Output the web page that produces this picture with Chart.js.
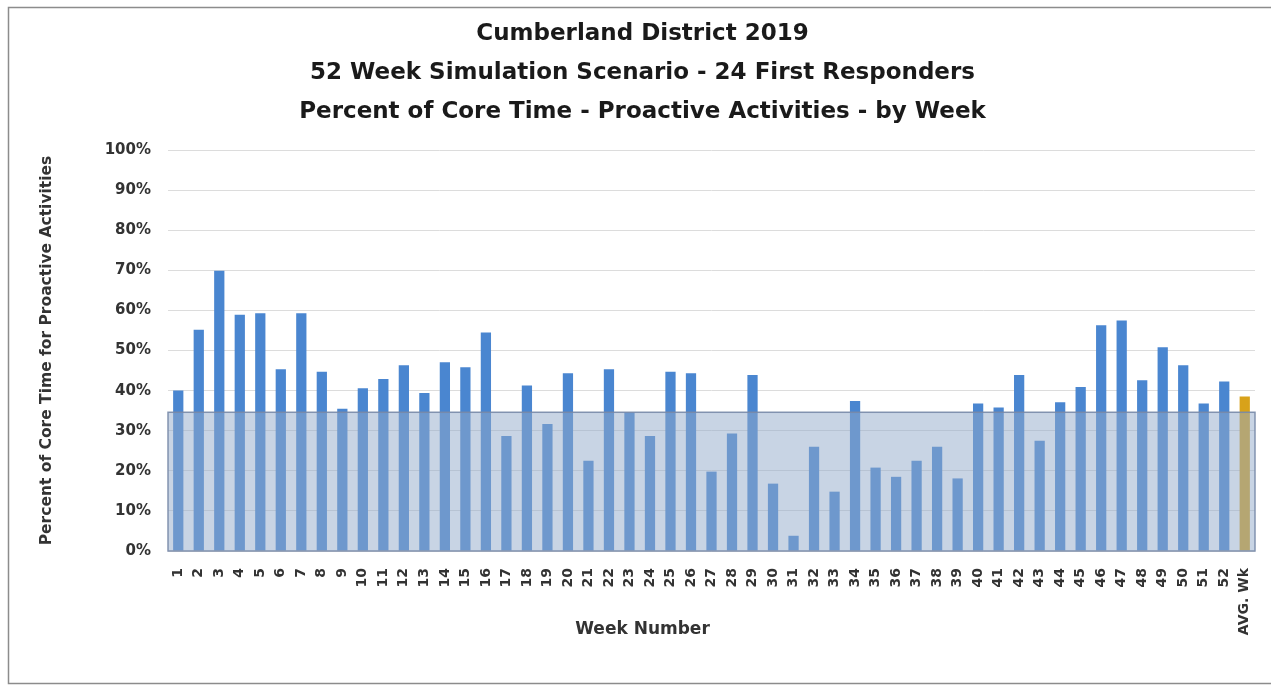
<!DOCTYPE html>
<html>
<head>
<meta charset="utf-8">
<script src="https://cdn.jsdelivr.net/npm/chart.js@4/dist/chart.umd.min.js"></script>
<style>
  html, body { margin: 0; padding: 0; background: #ffffff; }
  #wrap { width: 1271px; height: 691px; }
</style>
</head>
<body>
<div id="wrap"><canvas id="c" width="1271" height="691"></canvas></div>
<script>
const weeks = ["1","2","3","4","5","6","7","8","9","10","11","12","13","14","15","16","17","18","19","20","21","22","23","24","25","26","27","28","29","30","31","32","33","34","35","36","37","38","39","40","41","42","43","44","45","46","47","48","49","50","51","52","AVG. Wk"];
const proactivePct = [40.0,55.2,69.9,58.9,59.3,45.3,59.3,44.7,35.5,40.6,42.9,46.3,39.4,47.1,45.8,54.5,28.7,41.3,31.7,44.3,22.5,45.3,34.6,28.7,44.7,44.3,19.8,29.3,43.9,16.8,3.8,26.0,14.8,37.4,20.8,18.5,22.5,26.0,18.1,36.8,35.8,43.9,27.5,37.1,40.9,56.3,57.5,42.6,50.8,46.3,36.8,42.3,38.5];
const benchmarkPct = [34.6];
const yTicks = [0,10,20,30,40,50,60,70,80,90,100];

const FONT = "'DejaVu Sans', sans-serif";
const TXT = "#333333";

const barColors = weeks.map((w, i) => i === weeks.length - 1 ? "#d8a21a" : "#4a86d0");

const bandPlugin = {
  id: "band",
  afterDatasetsDraw(chart) {
    const {ctx, chartArea, scales} = chart;
    const y0 = scales.y.getPixelForValue(0);
    const y1 = scales.y.getPixelForValue(benchmarkPct[0]);
    ctx.save();
    ctx.fillStyle = "rgba(146,170,201,0.5)";
    ctx.fillRect(chartArea.left, y1, chartArea.right - chartArea.left, y0 - y1);
    ctx.strokeStyle = "rgba(120,138,168,0.9)";
    ctx.lineWidth = 1.5;
    ctx.strokeRect(chartArea.left, y1, chartArea.right - chartArea.left, y0 - y1);
    ctx.restore();
  }
};
const framePlugin = {
  id: "frame",
  beforeDraw(chart) {
    const ctx = chart.ctx;
    ctx.save();
    ctx.fillStyle = "#ffffff";
    ctx.fillRect(0, 0, chart.width, chart.height);
    ctx.strokeStyle = "#8c8c8c";
    ctx.lineWidth = 1.5;
    ctx.strokeRect(8.5, 7.5, chart.width + 10, 676);
    ctx.restore();
  }
};

new Chart(document.getElementById("c"), {
  type: "bar",
  data: {
    labels: weeks,
    datasets: [{
      data: proactivePct,
      backgroundColor: barColors,
      borderWidth: 0,
      barPercentage: 0.5,
      categoryPercentage: 1.0
    }]
  },
  options: {
    responsive: false,
    animation: false,
    devicePixelRatio: 1,
    layout: { padding: { left: 30, right: 16, top: 12, bottom: 51 } },
    plugins: {
      legend: { display: false },
      tooltip: { enabled: false },
      title: {
        display: true,
        text: ["Cumberland District 2019", "52 Week Simulation Scenario - 24 First Responders", "Percent of Core Time - Proactive Activities - by Week"],
        color: "#1a1a1a",
        font: { family: FONT, size: 23, weight: "bold", lineHeight: 1.696 },
        padding: { top: 3, bottom: 18 }
      },
      subtitle: {
        display: true,
        position: "bottom",
        text: "Week Number",
        color: TXT,
        font: { family: FONT, size: 17, weight: "bold", lineHeight: 1.2 },
        padding: { top: -20.4, bottom: 0 }
      }
    },
    scales: {
      x: {
        afterFit(scale) { scale.height = 89; },
        grid: { display: false },
        border: { display: false },
        ticks: {
          color: TXT,
          font: { family: FONT, size: 14, weight: "bold" },
          minRotation: 90, maxRotation: 90,
          autoSkip: false,
          padding: 9
        }
      },
      y: {
        min: 0, max: 100,
        afterBuildTicks(scale) { scale.ticks = yTicks.map(v => ({ value: v })); },
        afterFit(scale) { scale.width = 138; },
        grid: { color: "#dcdcdc", lineWidth: 1, drawTicks: false },
        border: { display: false },
        ticks: {
          color: TXT,
          font: { family: FONT, size: 15, weight: "bold" },
          padding: 17,
          callback: v => v + "%"
        },
        title: {
          display: true,
          text: "Percent of Core Time for Proactive Activities",
          color: TXT,
          font: { family: FONT, size: 15.5, weight: "bold" },
          padding: { top: 8, bottom: 0 }
        }
      }
    }
  },
  plugins: [framePlugin, bandPlugin]
});
</script>
</body>
</html>
